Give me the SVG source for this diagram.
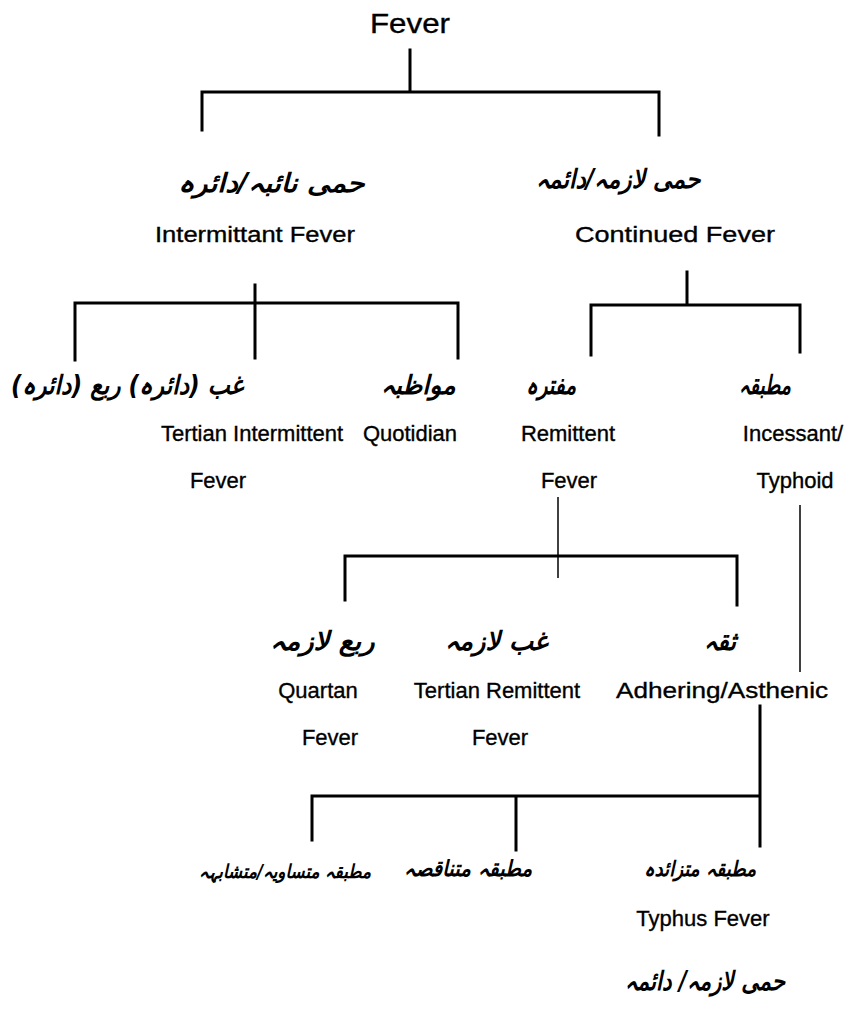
<svg xmlns="http://www.w3.org/2000/svg" width="844" height="1009" viewBox="0 0 844 1009">
<style>
.en{font-family:"Liberation Sans",Arial,sans-serif;font-size:22px;fill:#000;stroke:#000;stroke-width:0.35;text-anchor:middle}
.ur{font-family:"DejaVu Sans","Noto Sans",sans-serif;font-size:26px;font-weight:bold;fill:#000;text-anchor:middle;direction:rtl;font-style:italic}
.ln{stroke:#000;stroke-width:3;fill:none;stroke-linecap:square}
.thin{stroke:#000;stroke-width:1.5;fill:none}
</style>
<rect width="844" height="1009" fill="#fff"/>
<g id="connectors">
<path class="ln" d="M410 50V92M202 92H659M202 92V130M659 92V135"/>
<path class="ln" d="M255 285V358M75 303H458M75 303V360M458 303V358"/>
<path class="ln" d="M687 272V305M591 305H800M591 305V355M800 305V352"/>
<path class="thin" d="M558 497V578"/>
<path class="ln" d="M345 556H737M345 556V600M737 556V605"/>
<path class="thin" d="M800 505V672"/>
<path class="ln" d="M760 706V822M312 796H760M312 796V840M516 796V850M760 796V846"/>
</g>
<g id="n-fever"><text class="en" x="410" y="33" style="font-size:27px" textLength="80" lengthAdjust="spacingAndGlyphs">Fever</text></g>
<g id="n-intermittent"><text class="ur" x="271" y="192" textLength="187" lengthAdjust="spacingAndGlyphs">حمی نائبہ/دائرہ</text><text class="en" x="255" y="242" textLength="200" lengthAdjust="spacingAndGlyphs">Intermittant Fever</text></g>
<g id="n-continued"><text class="ur" x="618" y="188" textLength="165" lengthAdjust="spacingAndGlyphs">حمی لازمہ/دائمہ</text><text class="en" x="675" y="242" textLength="200" lengthAdjust="spacingAndGlyphs">Continued Fever</text></g>
<g id="n-tertian-int"><text class="ur" x="127" y="394" textLength="232" lengthAdjust="spacingAndGlyphs">غب (دائرہ) ربع (دائرہ)</text><text class="en" x="252" y="441">Tertian Intermittent</text><text class="en" x="218" y="488">Fever</text></g>
<g id="n-quotidian"><text class="ur" x="418" y="394" textLength="75" lengthAdjust="spacingAndGlyphs">مواظبہ</text><text class="en" x="410" y="441">Quotidian</text></g>
<g id="n-remittent"><text class="ur" x="551" y="394" textLength="50" lengthAdjust="spacingAndGlyphs">مفترہ</text><text class="en" x="568" y="441">Remittent</text><text class="en" x="569" y="488">Fever</text></g>
<g id="n-incessant"><text class="ur" x="765" y="394" textLength="52" lengthAdjust="spacingAndGlyphs">مطبقہ</text><text class="en" x="793" y="441">Incessant/</text><text class="en" x="795" y="488">Typhoid</text></g>
<g id="n-quartan"><text class="ur" x="322" y="650" textLength="105" lengthAdjust="spacingAndGlyphs">ربع لازمہ</text><text class="en" x="318" y="698">Quartan</text><text class="en" x="330" y="745">Fever</text></g>
<g id="n-tertian-rem"><text class="ur" x="496" y="650" textLength="103" lengthAdjust="spacingAndGlyphs">غب لازمہ</text><text class="en" x="497" y="698">Tertian Remittent</text><text class="en" x="500" y="745">Fever</text></g>
<g id="n-adhering"><text class="ur" x="720" y="650" textLength="32" lengthAdjust="spacingAndGlyphs">ثقہ</text><text class="en" x="722" y="698" textLength="212" lengthAdjust="spacingAndGlyphs">Adhering/Asthenic</text></g>
<g id="n-equal"><text class="ur" x="285" y="878" style="font-size:19px" textLength="172" lengthAdjust="spacingAndGlyphs">مطبقہ متساویہ/متشابہہ</text></g>
<g id="n-decreasing"><text class="ur" x="468" y="876" style="font-size:22px" textLength="128" lengthAdjust="spacingAndGlyphs">مطبقہ متناقصہ</text></g>
<g id="n-increasing"><text class="ur" x="700" y="876" style="font-size:21px" textLength="112" lengthAdjust="spacingAndGlyphs">مطبقہ متزائدہ</text><text class="en" x="703" y="926">Typhus Fever</text><text class="ur" x="705" y="990" textLength="160" lengthAdjust="spacingAndGlyphs">حمی لازمہ/ دائمہ</text></g>
</svg>
